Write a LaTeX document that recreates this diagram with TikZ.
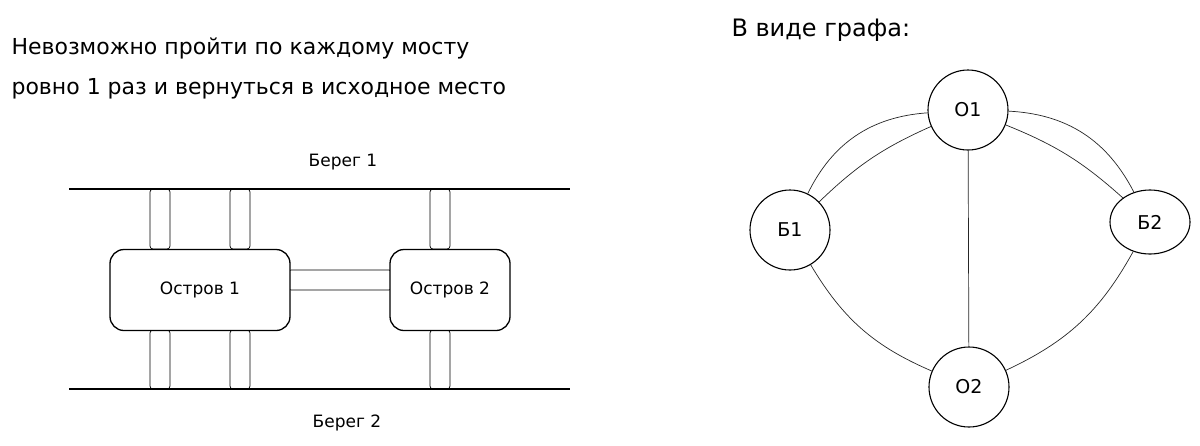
\documentclass[tikz,border=0pt]{standalone}
\usepackage{fontspec}
\setmainfont{DejaVu Sans}
\usetikzlibrary{positioning,shapes.geometric}

\begin{document}
\begin{tikzpicture}[x=1pt,y=1pt,
    island/.style={rectangle, draw, line width=1.3pt, rounded corners=14pt, minimum height=81pt, font=\fontsize{17}{20}\selectfont},
    vertex/.style={circle, draw, line width=1.1pt, minimum size=80pt, inner sep=0pt, font=\fontsize{19}{23}\selectfont},
    bridge/.style={draw, rounded corners=3pt, line width=0.7pt},
    edge/.style={line width=0.7pt, black!85},
    bank/.style={line width=1.8pt},
    small/.style={font=\fontsize{17}{20}\selectfont},
    big/.style={font=\fontsize{22}{40}\selectfont}
]
\useasboundingbox (0,0) rectangle (1200,-445);

% left part: the bridges
\node[big, anchor=west, align=left] (title) at (8,-68) {Невозможно пройти по каждому мосту\\ровно 1 раз и вернуться в исходное место};
\node[small] (shore1) at (343,-162) {Берег 1};
\node[small] (shore2) at (347,-423) {Берег 2};

\draw[bank] (69,-189) -- (570,-189);
\draw[bank] (69,-389) -- (570,-389);

\foreach \x in {150,230,430} {
  \draw[bridge] (\x,-189) rectangle (\x+20,-249);
  \draw[bridge] (\x,-330) rectangle (\x+20,-389);
}
\draw[bridge] (288,-270) rectangle (392,-290);

\node[island, fill=white, minimum width=180pt] (isl1) at (200,-290) {Остров 1};
\node[island, fill=white, minimum width=120pt] (isl2) at (450,-290) {Остров 2};

% right part: the graph
\node[font=\fontsize{24}{28}\selectfont, anchor=west] (graphtitle) at (728,-30) {В виде графа:};
\node[vertex] (o1) at (968,-110) {О1};
\node[vertex] (b1) at (790,-230) {Б1};
\node[vertex, ellipse, minimum width=80pt, minimum height=64pt] (b2) at (1150,-222) {Б2};
\node[vertex] (o2) at (969,-387) {О2};

\draw[edge] (o1) to[bend right=30] (b1);
\draw[edge] (o1) to[bend right=10] (b1);
\draw[edge] (o1) to[bend left=30] (b2);
\draw[edge] (o1) to[bend left=10] (b2);
\draw[edge] (o1) -- (o2);
\draw[edge] (b1) to[bend right=18] (o2);
\draw[edge] (b2) to[bend left=18] (o2);
\end{tikzpicture}
\end{document}
